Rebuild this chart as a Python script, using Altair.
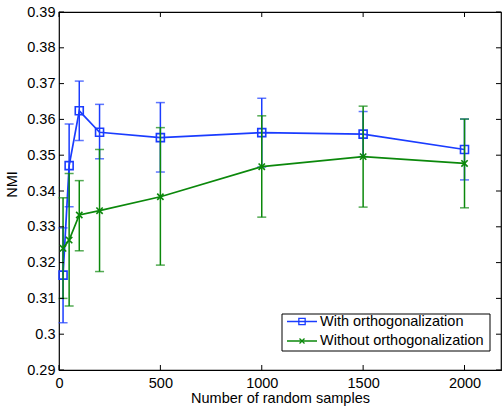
import altair as alt
import pandas as pd

# ---- data ----
x_vals = [20, 50, 100, 200, 500, 1000, 1500, 2000]
with_mean = [0.3165, 0.3471, 0.3624, 0.3564, 0.3549, 0.3563, 0.3559, 0.3516]
with_hi = [0.3297, 0.3587, 0.3707, 0.3642, 0.3647, 0.3659, 0.3622, 0.3601]
with_lo = [0.3032, 0.3356, 0.3541, 0.3490, 0.3453, 0.3467, 0.3496, 0.3431]
without_mean = [0.3240, 0.3263, 0.3333, 0.3345, 0.3384, 0.3468, 0.3496, 0.3477]
without_hi = [0.3381, 0.3449, 0.3429, 0.3516, 0.3577, 0.3610, 0.3637, 0.3601]
without_lo = [0.3100, 0.3079, 0.3233, 0.3175, 0.3193, 0.3327, 0.3355, 0.3353]
series_names = ["With orthogonalization", "Without orthogonalization"]
x_ticks = [0, 500, 1000, 1500, 2000]
y_ticks = [0.29, 0.30, 0.31, 0.32, 0.33, 0.34, 0.35, 0.36, 0.37, 0.38, 0.39]

BLUE = "#1a3cff"
GREEN = "#0b880b"
FONT = "Liberation Sans"
W, H = 442, 358

df_with = pd.DataFrame({"x": x_vals, "m": with_mean, "hi": with_hi, "lo": with_lo})
df_without = pd.DataFrame({"x": x_vals, "m": without_mean, "hi": without_hi, "lo": without_lo})

xs = alt.Scale(domain=[0, 2180], nice=False, zero=False)
ys = alt.Scale(domain=[0.29, 0.39], nice=False, zero=False)

XAX = alt.Axis(values=x_ticks, title="Number of random samples", format="d",
               domain=False, ticks=False, grid=False, labelPadding=6,
               labelOverlap=False, labelFlush=False, titlePadding=2)
YAX = alt.Axis(values=y_ticks, title="NMI", format=".2~f",
               domain=False, ticks=False, grid=False, labelPadding=4,
               labelOverlap=False, labelFlush=False, titlePadding=7, titleY=172)


def xq(f="x"):
    return alt.X(f + ":Q", scale=xs, axis=XAX)


def yq(f):
    return alt.Y(f + ":Q", scale=ys, axis=YAX)


def series_layers(df, color, shape, size):
    base = alt.Chart(df)
    rule = base.mark_rule(color=color, strokeWidth=1.5).encode(x=xq(), y=yq("lo"), y2="hi:Q")
    cap_hi = base.mark_tick(color=color, orient="horizontal", size=9, thickness=1.5).encode(
        x=xq(), y=yq("hi"))
    cap_lo = base.mark_tick(color=color, orient="horizontal", size=9, thickness=1.5).encode(
        x=xq(), y=yq("lo"))
    line = base.mark_line(color=color, strokeWidth=1.7).encode(x=xq(), y=yq("m"))
    pts = base.mark_point(color=color, shape=shape, size=size, filled=False,
                          strokeWidth=1.6, opacity=1).encode(x=xq(), y=yq("m"))
    return [rule, cap_hi, cap_lo, line, pts]


CROSS = "M-1,-1L1,1M-1,1L1,-1"
layers = series_layers(df_with, BLUE, "square", 64) + series_layers(df_without, GREEN, CROSS, 40)

# inward ticks (box on all sides)
xt = alt.Chart(pd.DataFrame({"t": x_ticks}))
yt = alt.Chart(pd.DataFrame({"t": y_ticks}))
layers += [
    xt.mark_rule(color="black", strokeWidth=1).encode(x=xq("t"), y=alt.value(H), y2=alt.value(H - 5)),
    xt.mark_rule(color="black", strokeWidth=1).encode(x=xq("t"), y=alt.value(0), y2=alt.value(5)),
    yt.mark_rule(color="black", strokeWidth=1).encode(y=yq("t"), x=alt.value(0), x2=alt.value(5)),
    yt.mark_rule(color="black", strokeWidth=1).encode(y=yq("t"), x=alt.value(W), x2=alt.value(W - 5)),
]

# legend box
one = alt.Chart(alt.Data(values=[{"a": 1}]))
lx0, lx1, ly0, ly1 = 223, 431, 302, 339
row1, row2 = 309.5, 329
layers += [
    one.mark_rect(fill="white", stroke="black", strokeWidth=1).encode(
        x=alt.value(lx0), x2=alt.value(lx1), y=alt.value(ly0), y2=alt.value(ly1)),
    one.mark_rule(color=BLUE, strokeWidth=1.5).encode(x=alt.value(228), x2=alt.value(258), y=alt.value(row1)),
    one.mark_point(color=BLUE, shape="square", size=40, filled=False, strokeWidth=1.3, opacity=1).encode(
        x=alt.value(243), y=alt.value(row1)),
    one.mark_text(align="left", baseline="middle", font=FONT, fontSize=14.5, color="black").encode(
        x=alt.value(261), y=alt.value(row1), text=alt.value(series_names[0])),
    one.mark_rule(color=GREEN, strokeWidth=1.5).encode(x=alt.value(228), x2=alt.value(258), y=alt.value(row2)),
    one.mark_point(color=GREEN, shape=CROSS, size=25, filled=False, strokeWidth=1.3, opacity=1).encode(
        x=alt.value(243), y=alt.value(row2)),
    one.mark_text(align="left", baseline="middle", font=FONT, fontSize=14.5, color="black").encode(
        x=alt.value(261), y=alt.value(row2), text=alt.value(series_names[1])),
]

chart = alt.layer(*layers).properties(
    width=W, height=H,
    autosize=alt.AutoSizeParams(type="none"),
    padding={"left": 59, "top": 12, "right": 2, "bottom": 41},
    background="white",
).configure_view(stroke="black", strokeWidth=1.2).configure_axis(
    labelFont=FONT, titleFont=FONT, labelFontSize=14.5, titleFontSize=14.5,
    labelColor="black", titleColor="black", titleFontWeight="normal", labelOverlap=False,
)

chart.save("out.html", embed_options={"renderer": "svg", "actions": False})
